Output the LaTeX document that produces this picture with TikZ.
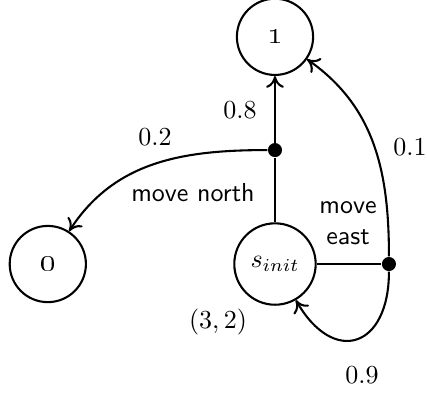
\documentclass[tikz,border=0pt]{standalone}
\usepackage{amsmath,amssymb}
\usepackage{tikz}
\usetikzlibrary{arrows.meta,positioning,calc}

\begin{document}
\begin{tikzpicture}[
  node distance=3.07cm, on grid,
  every node/.style={font=\normalsize,align=center},
  state/.style={draw,circle,thick,minimum size=1.03cm,inner sep=1pt},
  choice/.style={circle,fill=black,minimum size=1.9mm,inner sep=0pt},
  act/.style={font=\sffamily},
  arr/.style={-{To[length=1.6mm,width=2.4mm]},thick},
  lin/.style={thick}
]
\useasboundingbox (-3.716,-1.757) rectangle (2.054,3.568);
\node[state,minimum size=1.1cm] (sinit) {$s_{init}$};
\node[state,above=of sinit,font=\large] (one) {\oldstylenums{1}};
\node[state,left=of sinit,font=\large] (zero) {\oldstylenums{0}};
\node[choice,above=1.54cm of sinit] (north) {};
\node[choice,right=1.54cm of sinit] (east) {};
% move north
\draw[lin] (sinit)--(north);
\draw[arr] (north)--(one);
\draw[arr] (north) to[out=180,in=57] (zero);
% move east
\draw[lin] (sinit)--(east);
\draw[arr] (east) to[out=90,in=-35] (one);
\draw[arr] (east) to[out=-90,in=-60,looseness=2] (sinit);
% labels
\node (p08) at (-0.473,2.081) {$0.8$};
\node (p02) at (-1.622,1.716) {$0.2$};
\node[act] (mn) at (-1.108,0.959) {move north};
\node[act] (me) at (0.986,0.554) {move\\east};
\node (p01) at (1.824,1.581) {$0.1$};
\node (pos) at (-0.770,-0.784) {$(3,2)$};
\node (p09) at (1.176,-1.500) {$0.9$};
\end{tikzpicture}
\end{document}
